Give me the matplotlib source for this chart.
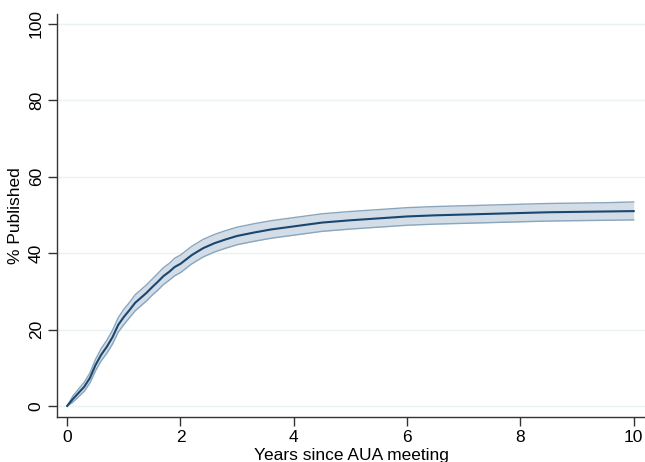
import matplotlib.pyplot as plt

# years since meeting and cumulative % published
years = [0, 0.1, 0.2, 0.3, 0.4, 0.5, 0.6, 0.7, 0.8, 0.9, 1.0, 1.1, 1.2, 1.3, 1.4,
         1.5, 1.6, 1.7, 1.8, 1.9, 2.0, 2.2, 2.4, 2.6, 2.8, 3.0, 3.3, 3.6, 4.0,
         4.5, 5.0, 5.5, 6.0, 6.5, 7.0, 7.5, 8.0, 8.5, 9.0, 9.5, 10.0]
published = [0, 1.8, 3.4, 5.0, 7.3, 10.7, 13.4, 15.5, 18.0, 21.2, 23.3, 25.1, 27.0,
             28.3, 29.6, 31.1, 32.5, 34.0, 35.1, 36.4, 37.2, 39.5, 41.3, 42.6, 43.6,
             44.5, 45.4, 46.2, 47.0, 48.0, 48.6, 49.1, 49.6, 49.9, 50.1, 50.3, 50.5,
             50.7, 50.8, 50.9, 51.0]
ci_lower = [0, 1.0, 2.4, 3.8, 6.0, 9.2, 11.8, 13.8, 16.2, 19.3, 21.3, 23.1, 24.9,
            26.2, 27.5, 29.0, 30.3, 31.8, 32.9, 34.1, 34.9, 37.2, 39.0, 40.3, 41.3,
            42.2, 43.1, 43.9, 44.7, 45.7, 46.3, 46.8, 47.3, 47.6, 47.8, 48.0, 48.2,
            48.4, 48.5, 48.6, 48.7]
ci_upper = [0, 2.6, 4.4, 6.2, 8.6, 12.2, 15.0, 17.2, 19.8, 23.1, 25.3, 27.1, 29.1,
            30.4, 31.7, 33.2, 34.7, 36.2, 37.3, 38.7, 39.5, 41.8, 43.6, 44.9, 45.9,
            46.8, 47.7, 48.5, 49.3, 50.3, 50.9, 51.4, 51.9, 52.2, 52.4, 52.6, 52.8,
            53.0, 53.1, 53.2, 53.4]

plt.rcParams['font.family'] = ['Liberation Sans', 'DejaVu Sans']
plt.rcParams['font.size'] = 12.5

fig = plt.figure(figsize=(6.45, 4.62), dpi=100)
ax = fig.add_axes([57 / 645, 45 / 462, 588 / 645, 403 / 462])

grid_col = '#eaf2f3'
for yv in [0, 20, 40, 60, 80, 100]:
    ax.axhline(yv, color=grid_col, lw=1, zorder=0)

ax.fill_between(years, ci_lower, ci_upper, color='#d3dde7', lw=0, zorder=1)
ax.plot(years, ci_lower, color='#8aa5bc', lw=1, zorder=2)
ax.plot(years, ci_upper, color='#8aa5bc', lw=1, zorder=2)
ax.plot(years, published, color='#1a476f', lw=1.5, zorder=3)

ax.set_xlim(-0.18, 10.2)
ax.set_ylim(-2.9, 102.6)
ax.set_xticks([0, 2, 4, 6, 8, 10])
ax.set_yticks([0, 20, 40, 60, 80, 100])
ax.set_yticklabels(['0', '20', '40', '60', '80', '100'], rotation=90, va='center')
ax.tick_params(direction='out', length=6.5, width=1, color='#333333', pad=3)

for s in ['top', 'right']:
    ax.spines[s].set_visible(False)
for s in ['left', 'bottom']:
    ax.spines[s].set_color('#333333')
    ax.spines[s].set_linewidth(1)

ax.set_xlabel('Years since AUA meeting', labelpad=2)
ax.set_ylabel('% Published', labelpad=4)

fig.savefig('out.png', dpi=100)
